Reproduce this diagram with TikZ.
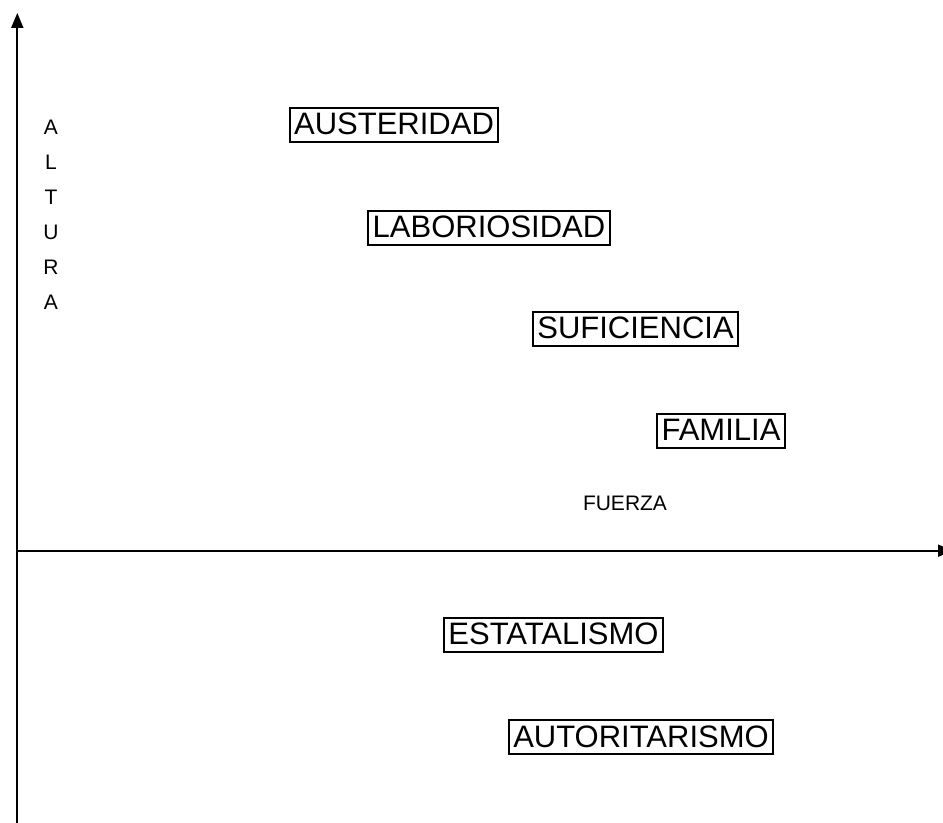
\documentclass[tikz,border=0pt]{standalone}
\usepackage{fontspec}
\setmainfont{Liberation Sans}
\usetikzlibrary{arrows.meta}
\begin{document}
\begin{tikzpicture}[x=0.5pt,y=-0.5pt,
  axis/.style={line width=1pt,-{Triangle[length=7.5pt,width=6pt]}},
  valuebox/.style={draw,line width=1pt,inner xsep=2.2pt,inner ysep=0pt,
    text height=13.5pt,text depth=3.5pt,anchor=base,font=\fontsize{15.5pt}{18pt}\selectfont},
  smalllabel/.style={inner sep=0pt,anchor=base,font=\fontsize{10.5pt}{12pt}\selectfont}]
\useasboundingbox (0,0) rectangle (943,823);
\clip (0,0) rectangle (943,823);
\coordinate (ybot) at (17.3,830);
\coordinate (ytop) at (17.3,13);
\coordinate (xleft) at (17.3,550.7);
\coordinate (xright) at (953,550.7);
\draw[axis] (ybot) -- (ytop);
\draw[axis] (xleft) -- (xright);
\node[valuebox] (aus) at (394,135) {AUSTERIDAD};
\node[valuebox] (lab) at (489,238) {LABORIOSIDAD};
\node[valuebox] (suf) at (635.5,339) {SUFICIENCIA};
\node[valuebox] (fam) at (721,441) {FAMILIA};
\node[valuebox] (est) at (553.5,645) {ESTATALISMO};
\node[valuebox] (aut) at (641,747) {AUTORITARISMO};
\node[smalllabel] (fuerza) at (625,511) {FUERZA};
\node[smalllabel] (a1) at (51,135) {A};
\node[smalllabel] (a2) at (51,170) {L};
\node[smalllabel] (a3) at (51,205) {T};
\node[smalllabel] (a4) at (51,240) {U};
\node[smalllabel] (a5) at (51,275) {R};
\node[smalllabel] (a6) at (51,310) {A};
\end{tikzpicture}
\end{document}
